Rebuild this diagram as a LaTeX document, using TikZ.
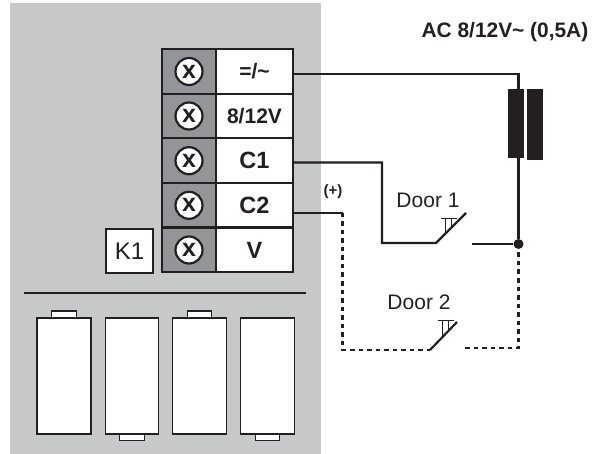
\documentclass[tikz,border=0pt]{standalone}
\usepackage{fontspec}
\setmainfont{Liberation Sans}
\definecolor{ink}{HTML}{231F20}
\definecolor{panel}{HTML}{C7C8CA}
\definecolor{cellgrey}{HTML}{939598}
\tikzset{
  screwcell/.style={draw=ink,line width=2.2pt,fill=cellgrey,minimum width=54pt,minimum height=44.6pt,inner sep=0pt},
  labelcell/.style={draw=ink,line width=2.2pt,fill=white,minimum width=77pt,minimum height=44.6pt,inner sep=0pt,text=ink,font=\bfseries\fontsize{23.5}{23.5}\selectfont},
  smallcell/.style={labelcell,font=\bfseries\fontsize{21}{21}\selectfont},
  screw/.style={circle,draw=ink,line width=2.2pt,fill=white,minimum size=27pt,inner sep=0pt,text=ink,font=\bfseries\fontsize{25}{25}\selectfont},
  wire/.style={draw=ink,line width=2.2pt},
  dashwire/.style={draw=ink,line width=2.2pt,dash pattern=on 4.5pt off 4pt},
  thinwire/.style={draw=ink,line width=1.8pt},
  batt/.style={draw=ink,line width=1.1pt,fill=white,inner sep=0pt},
  battcap/.style={draw=ink,line width=1.1pt,fill=white,inner sep=0pt,minimum width=24.5pt,minimum height=7pt},
  coil/.style={fill=ink,inner sep=0pt,minimum width=16pt},
  lbl/.style={text=ink,inner sep=0pt,font=\fontsize{21}{21}\selectfont},
}
\begin{document}
\begin{tikzpicture}[x=1pt,y=-1pt]
\useasboundingbox (0,0) rectangle (594,454);
\fill[panel] (10,3) rectangle (321,454);
% terminals
\foreach \n/\y in {1/71.5,2/116,3/160.7,4/205.3,5/250}{
  \node[screwcell] (s\n) at (189,\y) {};
  \node[screw] (x\n) at (189,\y) {x};
}
\node[smallcell] (t1) at (254.5,71.5) {=/\textasciitilde};
\node[smallcell] (t2) at (254.5,116) {8/12V};
\node[labelcell] (t3) at (254.5,160.7) {C1};
\node[labelcell] (t4) at (254.5,205.3) {C2};
\node[labelcell] (t5) at (254.5,250) {V};
\node[draw=ink,line width=2pt,fill=white,minimum width=47.5pt,minimum height=44.5pt,inner sep=0pt,text=ink,font=\fontsize{24}{24}\selectfont] (k1) at (129.5,251) {K1};
% separator and batteries
\coordinate (sepl) at (24,293); \coordinate (sepr) at (306,293);
\draw[ink,line width=2.2pt] (sepl) -- (sepr);
\node[battcap] (c1) at (64,314.5) {};
\node[battcap] (c2) at (132,437) {};
\node[battcap] (c3) at (199.5,314.5) {};
\node[battcap] (c4) at (267.5,437) {};
\node[batt,minimum width=54pt,minimum height=116pt] (b1) at (64,376) {};
\node[batt,minimum width=53.5pt,minimum height=116pt] (b2) at (132,376) {};
\node[batt,minimum width=54pt,minimum height=116pt] (b3) at (199.5,376) {};
\node[batt,minimum width=54pt,minimum height=116pt] (b4) at (267.5,376) {};
% coil
\node[coil,minimum height=69pt] (coilA) at (516,123.5) {};
\node[coil,minimum height=71pt] (coilB) at (535,124.5) {};
% junction
\node[circle,fill=ink,minimum size=10pt,inner sep=0pt] (j) at (518.5,244) {};
% named points
\coordinate (w1) at (518.5,74);
\coordinate (w2) at (382,162.5);
\coordinate (w3) at (382,243);
\coordinate (d1a) at (436,243);
\coordinate (d1b) at (466,213);
\coordinate (d1c) at (472,244);
\coordinate (w4) at (342.5,213);
\coordinate (w5) at (342.5,350);
\coordinate (d2a) at (430,350);
\coordinate (d2b) at (457,322);
\coordinate (d2c) at (465,348);
\coordinate (w6) at (518.5,348);
% wires
\draw[wire] (t1.east |- 0,74) -- (w1) -- (w1 |- coilA.north);
\draw[wire] (w1 |- coilA.south) -- (j);
\draw[wire] (t3.east |- w2) -- (w2) -- (w3) -- (d1a) -- (d1b);
\draw[wire] (d1c) -- (j);
\draw[wire] (t4.east |- w4) -- (w4);
\draw[dashwire] (w4) -- (w5) -- (d2a);
\draw[wire] (d2a) -- (d2b);
\draw[dashwire] (d2c) -- (w6) -- (j);
% pushbutton marks
\draw[thinwire] (441,218.5) -- (457,218.5);
\draw[thinwire] (445.5,218.5) -- (445.5,234);
\draw[thinwire] (451.5,218.5) -- (451.5,228);
\draw[thinwire] (438,320.5) -- (454,320.5);
\draw[thinwire] (442.5,320.5) -- (442.5,338);
\draw[thinwire] (448.5,320.5) -- (448.5,332);
% labels
\node[lbl] (door1) at (428,200) {Door 1};
\node[lbl] (door2) at (419,302) {Door 2};
\node[text=ink,inner sep=0pt,font=\bfseries\fontsize{15}{15}\selectfont] (plus) at (333,192) {(+)};
\node[text=ink,inner sep=0pt,anchor=base east,font=\bfseries\fontsize{20.9}{20.9}\selectfont] (title) at (588.5,38) {AC 8/12V\textasciitilde{} (0,5A)};
\end{tikzpicture}
\end{document}
